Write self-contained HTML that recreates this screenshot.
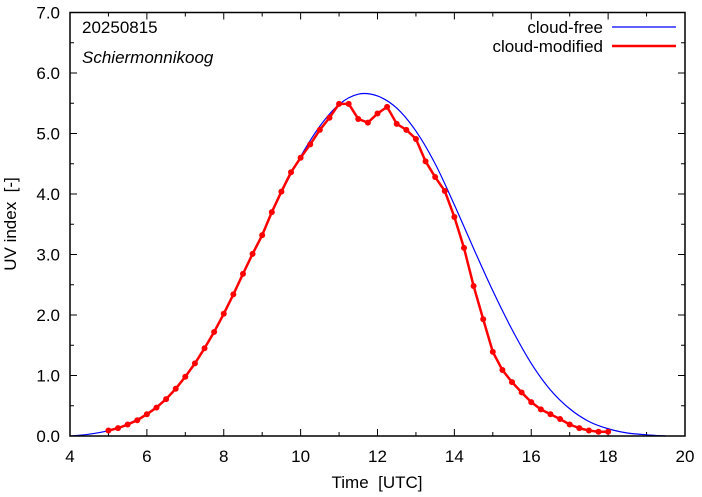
<!DOCTYPE html>
<html><head><meta charset="utf-8"><style>
html,body{margin:0;padding:0;background:#fff;}
svg{display:block;font-family:"Liberation Sans",sans-serif;}
</style></head><body>
<svg id="chart" width="702" height="497" viewBox="0 0 702 497">
<rect x="0" y="0" width="702" height="497" fill="#fff"/>
<g id="ticks"></g>
<g id="series"></g>
<rect x="70" y="12.5" width="615" height="423.5" fill="none" stroke="#000" stroke-width="1.5"/>
<text x="16" y="224" font-size="17" text-anchor="middle" transform="rotate(-90 16 224)" xml:space="preserve">UV index  [-]</text>
<text x="377" y="488" font-size="17" text-anchor="middle" xml:space="preserve">Time  [UTC]</text>
<text x="82" y="33" font-size="17">20250815</text>
<text x="82" y="63" font-size="17" font-style="italic">Schiermonnikoog</text>
<g>
<text x="603" y="33" font-size="17" text-anchor="end">cloud-free</text>
<line x1="612" y1="27" x2="676" y2="27" stroke="#0000ff" stroke-width="1.2"/>
<text x="603" y="52" font-size="17" text-anchor="end">cloud-modified</text>
<line x1="612" y1="46" x2="676" y2="46" stroke="#ff0000" stroke-width="2.5"/>
</g>
</svg>
<script>
const xTicks = [4, 6, 8, 10, 12, 14, 16, 18, 20];
const yTicks = [0, 1, 2, 3, 4, 5, 6, 7];
const yTickLabels = ["0.0","1.0","2.0","3.0","4.0","5.0","6.0","7.0"];
const clearTimes = [4.0,4.5,5.0,5.5,6.0,6.5,7.0,7.5,8.0,8.5,9.0,9.5,10.0,10.5,11.0,11.5,12.0,12.5,13.0,13.5,14.0,14.5,15.0,15.5,16.0,16.5,17.0,17.5,18.0,18.5,19.0,19.5];
const clearUV = [0.0,0.03,0.09,0.2,0.37,0.62,0.99,1.46,2.03,2.68,3.33,4.02,4.62,5.12,5.48,5.65,5.62,5.42,5.04,4.5,3.82,3.1,2.4,1.76,1.2,0.76,0.45,0.24,0.12,0.05,0.02,0.0];
const cloudStart = 5.0;
const cloudStep = 0.25;
const cloudUV = [0.09,0.13,0.19,0.26,0.36,0.47,0.61,0.78,0.98,1.2,1.45,1.72,2.02,2.34,2.68,3.01,3.32,3.7,4.04,4.36,4.6,4.82,5.06,5.26,5.49,5.49,5.24,5.18,5.33,5.44,5.16,5.06,4.91,4.54,4.28,4.05,3.62,3.11,2.48,1.93,1.39,1.09,0.89,0.72,0.56,0.44,0.36,0.28,0.19,0.13,0.09,0.07,0.07];

const NS="http://www.w3.org/2000/svg";
const X0=70,X1=685,Y0=436,Y1=12.5,xmin=4,xmax=20,ymin=0,ymax=7;
function sx(v){return X0+(v-xmin)/(xmax-xmin)*(X1-X0);}
function sy(v){return Y0-(v-ymin)/(ymax-ymin)*(Y0-Y1);}
function mk(tag,attrs,parent){const e=document.createElementNS(NS,tag);for(const k in attrs)e.setAttribute(k,attrs[k]);parent.appendChild(e);return e;}
const tg=document.getElementById('ticks');
xTicks.forEach(function(t,i){
  const line=mk('path',{d:`M${sx(t)},${Y0}v-7M${sx(t)},${Y1}v7`,stroke:'#000','stroke-width':1},tg);
  
  
  if(i<xTicks.length-1){const m=sx(t+1);
    const ml=mk('path',{d:`M${m},${Y0}v-4M${m},${Y1}v4`,stroke:'#000','stroke-width':1},tg);
    
    }
  const lb=mk('text',{x:sx(t),y:462,'font-size':17,'text-anchor':'middle'},tg);
  lb.textContent=String(t);
  
  
});
yTicks.forEach(function(t,i){
  const line=mk('path',{d:`M${X0},${sy(t)}h7M${X1},${sy(t)}h-7`,stroke:'#000','stroke-width':1},tg);
  
  
  if(i<yTicks.length-1){const m=sy(t+0.5);
    const ml=mk('path',{d:`M${X0},${m}h4M${X1},${m}h-4`,stroke:'#000','stroke-width':1},tg);
    
    }
  const lb=mk('text',{x:60,y:sy(t)+6,'font-size':17,'text-anchor':'end'},tg);
  lb.textContent=yTickLabels[i];
  
  
});
const sg=document.getElementById('series');
const cp=clearTimes.map((t,i)=>[sx(t),sy(clearUV[i])]);
let d=`M${cp[0][0]},${cp[0][1]}`;
for(let i=0;i<cp.length-1;i++){
  const p0=cp[Math.max(0,i-1)],p1=cp[i],p2=cp[i+1],p3=cp[Math.min(cp.length-1,i+2)];
  d+=`C${p1[0]+(p2[0]-p0[0])/6},${p1[1]+(p2[1]-p0[1])/6} ${p2[0]-(p3[0]-p1[0])/6},${p2[1]-(p3[1]-p1[1])/6} ${p2[0]},${p2[1]}`;
}
const blue=mk('path',{d:d,fill:'none',stroke:'#0000ff','stroke-width':1.2},sg);


const rp=cloudUV.map((v,i)=>[sx(cloudStart+i*cloudStep),sy(v)]);
const red=mk('polyline',{points:rp.map(p=>p.join(',')).join(' '),fill:'none',stroke:'#ff0000','stroke-width':2.5,'stroke-linejoin':'round'},sg);


rp.forEach(function(p){
  const c=mk('circle',{cx:p[0],cy:p[1],r:3,fill:'#ff0000'},sg);
  
  
});
</script>
</body></html>
